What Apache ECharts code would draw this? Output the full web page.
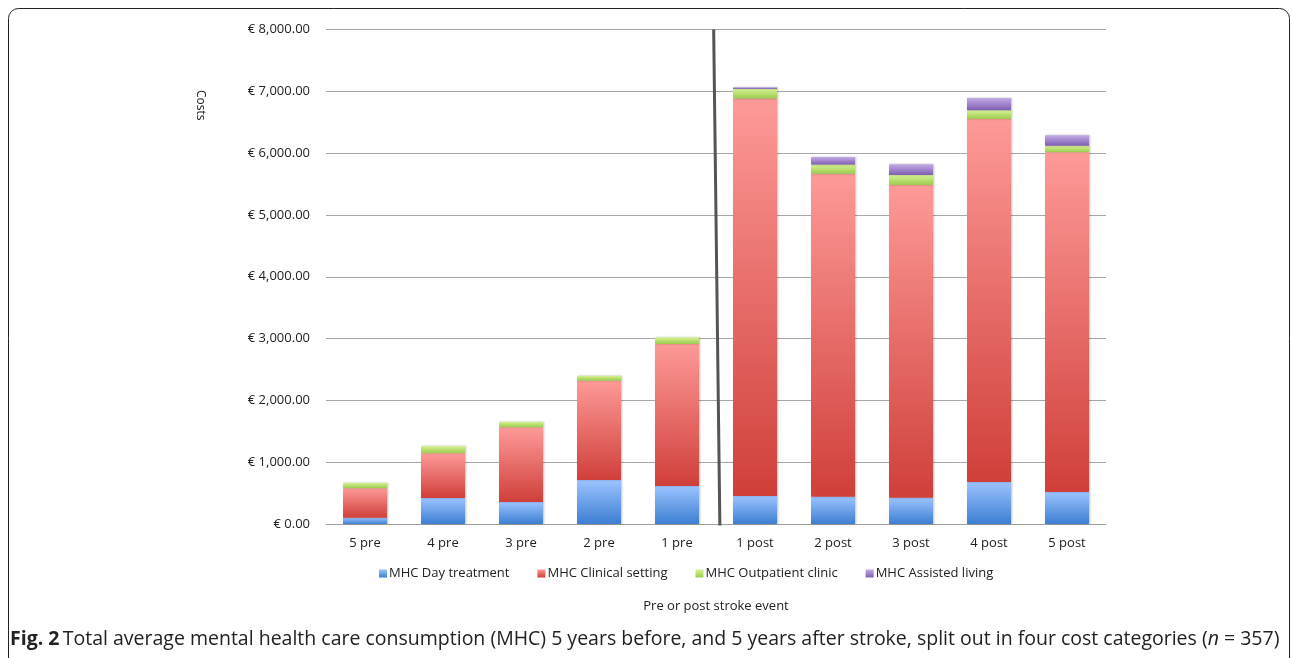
<!DOCTYPE html>
<html>
<head>
<meta charset="utf-8">
<script src="https://cdn.jsdelivr.net/npm/echarts@6/dist/echarts.min.js"></script>
<style>
html,body{margin:0;padding:0;background:#fff;}
#chart{width:1292px;height:658px;}
</style>
</head>
<body>
<div id="chart"></div>
<script>
const categories = ['5 pre','4 pre','3 pre','2 pre','1 pre','1 post','2 post','3 post','4 post','5 post'];
const dayTreatment     = [102, 421, 356, 712, 615, 453, 442, 426, 680, 518];
const clinicalSetting  = [476, 723, 1209, 1607, 2298, 6429, 5226, 5059, 5873, 5496];
const outpatientClinic = [90, 118, 91, 81, 108, 157, 146, 162, 141, 107];
const assistedLiving   = [0, 0, 0, 0, 0, 27, 125, 173, 199, 169];
const seriesNames = ['MHC Day treatment','MHC Clinical setting','MHC Outpatient clinic','MHC Assisted living'];
const yTicks = [0, 8000, 1000];
const dividerLine = [[4.97, 8000], [5.05, -50]];

function grad(top, bottom){
  return new echarts.graphic.LinearGradient(0,0,0,1,[{offset:0,color:top},{offset:1,color:bottom}]);
}
const styles = [
  grad('#9cc3ff','#3d7fd2'),
  grad('#fd9a98','#d03f3a'),
  grad('#d8f294','#9ccb4e'),
  grad('#c4abe6','#7f5eb2')
];
const dataSets = [dayTreatment, clinicalSetting, outpatientClinic, assistedLiving];

const chart = echarts.init(document.getElementById('chart'), null, {renderer:'canvas'});
const font = 'Open Sans, Noto Sans, sans-serif';
chart.setOption({
  animation:false,
  backgroundColor:'#fff',
  textStyle:{fontFamily:font},
  grid:{left:326, right:186, top:29.5, bottom:134, containLabel:false},
  legend:{
    data:seriesNames,
    top:562, left:374,
    itemWidth:8, itemHeight:8, itemGap:28,
    icon:'rect',
    textStyle:{fontSize:13, color:'#222', fontFamily:font, padding:[0,0,0,-3]}
  },
  xAxis:[{
    type:'category', data:categories,
    axisLine:{lineStyle:{color:'#a0a0a0', width:1}},
    axisTick:{show:false},
    axisLabel:{fontSize:13, color:'#222', margin:13},
    name:'Pre or post stroke event', nameLocation:'middle', nameGap:76,
    nameTextStyle:{fontSize:13, color:'#222'}
  },{
    type:'value', min:0, max:10, show:false, position:'top'
  }],
  yAxis:[{
    type:'value', min:yTicks[0], max:yTicks[1], interval:yTicks[2],
    axisLine:{show:false}, axisTick:{show:false},
    splitLine:{lineStyle:{color:'#a6a6a6', width:1.2}},
    axisLabel:{fontSize:13, color:'#222', margin:16,
      formatter:v=>'€ '+v.toLocaleString('en-US',{minimumFractionDigits:2, maximumFractionDigits:2})}
  }],
  graphic:[
    {type:'text', left:194, top:90, rotation:-Math.PI/2, style:{text:'Costs', fontSize:12, fill:'#222', fontFamily:font}},
    {type:'rect', shape:{x:8.5, y:8.5, width:1281, height:700, r:10}, style:{fill:'none', stroke:'#222', lineWidth:1}},
    {type:'text', left:10, top:629, style:{
      rich:{b:{fontWeight:'bold', fontSize:19.5, fill:'#222', fontFamily:'Open Sans'}, n:{fontSize:19.5, fill:'#222', fontFamily:'Open Sans'}, i:{fontSize:19.5, fill:'#222', fontStyle:'italic', fontFamily:'Open Sans'}},
      text:'{b|Fig. 2} {n|Total average mental health care consumption (MHC) 5 years before, and 5 years after stroke, split out in four cost categories (}{i|n}{n| = 357)}'
    }}
  ],
  series: seriesNames.map((n,i)=>({
    name:n, type:'bar', stack:'total', barWidth:44,
    data:dataSets[i],
    itemStyle:{color:styles[i], shadowColor:'rgba(0,0,0,0.25)', shadowBlur:2, shadowOffsetX:1, shadowOffsetY:0}
  })).concat([{
    type:'line', xAxisIndex:1, data:dividerLine, symbol:'none', silent:true,
    lineStyle:{color:'#555', width:3}, z:5
  }])
});
</script>
</body>
</html>
